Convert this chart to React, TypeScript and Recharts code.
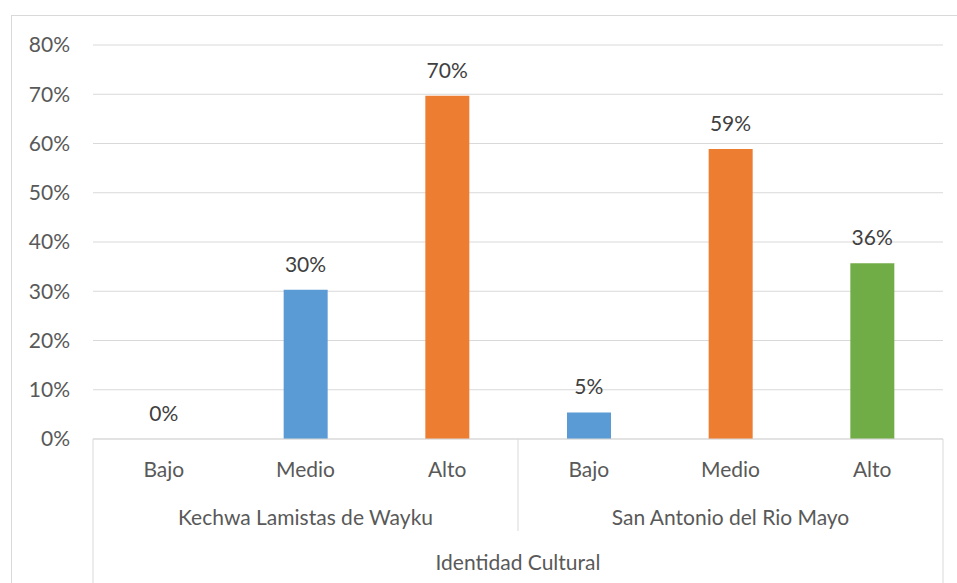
import React from "react";
import { ComposedChart, Bar, Line, XAxis, YAxis, CartesianGrid, LabelList, Cell } from "recharts";

const levels = ["Bajo", "Medio", "Alto", "Bajo", "Medio", "Alto"];
const groups = ["Kechwa Lamistas de Wayku", "Kechwa Lamistas de Wayku", "Kechwa Lamistas de Wayku", "San Antonio del Rio Mayo", "San Antonio del Rio Mayo", "San Antonio del Rio Mayo"];
const values = [0, 30.3, 69.7, 5.4, 58.9, 35.7];
const barColors = ["#5B9BD5", "#5B9BD5", "#ED7D31", "#5B9BD5", "#ED7D31", "#70AD47"];
const yTicks = [0, 10, 20, 30, 40, 50, 60, 70, 80];
const axisTitle = "Identidad Cultural";

const data = levels.map((l, i) => ({ key: `${i}`, level: l, group: groups[i], value: values[i] }));

const W = 957;
const H = 583;
const M = { top: 45, right: 14, bottom: 0, left: 0 };
const Y_W = 93;
const X_H = 144;
const PLOT_W = W - M.left - M.right - Y_W;
const BAND = PLOT_W / data.length;
const FONT = "Lato, 'Carlito', Calibri, sans-serif";
const FS = 21;
const FW = 400;
const GRID = "#d9d9d9";

const CatTick = (props: any) => {
  const { x, y, payload } = props;
  const i = payload.index;
  const d = data[i];
  const toBottom = H - y;
  const els: any[] = [];
  els.push(
    <text key="l" x={x} y={y + 38} textAnchor="middle" fill="#595959" fontSize={FS} fontWeight={FW} fontFamily={FONT}>
      {d.level}
    </text>
  );
  if (i % 3 === 1) {
    els.push(
      <text key="g" x={x} y={y + 86} textAnchor="middle" fill="#595959" fontSize={FS} fontWeight={FW} fontFamily={FONT}>
        {d.group}
      </text>
    );
  }
  if (i === 0) {
    els.push(<line key="a" x1={x - BAND / 2} x2={x - BAND / 2} y1={y} y2={y + toBottom} stroke={GRID} strokeWidth={1} />);
  }
  if (i === 2) {
    els.push(<line key="b" x1={x + BAND / 2} x2={x + BAND / 2} y1={y} y2={y + 92} stroke={GRID} strokeWidth={1} />);
  }
  if (i === data.length - 1) {
    els.push(<line key="c" x1={x + BAND / 2} x2={x + BAND / 2} y1={y} y2={y + toBottom} stroke={GRID} strokeWidth={1} />);
  }
  return <g>{els}</g>;
};

export default function App() {
  return (
    <div style={{ position: "fixed", left: 0, top: 0, width: W, height: H, overflow: "hidden", background: "#fff" }}>
      <div style={{ position: "absolute", left: 11, top: 15, width: 1000, height: 1000, border: `1px solid ${GRID}`, boxSizing: "border-box" }} />
      <div style={{ position: "absolute", left: 0, top: 0 }}>
        <ComposedChart width={W} height={H} data={data} margin={M} barSize={44}>
          <CartesianGrid vertical={false} stroke={GRID} strokeWidth={1} />
          <XAxis
            dataKey="key"
            height={X_H}
            tickLine={false}
            tickSize={0}
            tickMargin={0}
            axisLine={{ stroke: GRID }}
            interval={0}
            tick={<CatTick />}
            label={{ value: axisTitle, position: "insideBottom", offset: 13, fill: "#595959", fontSize: FS, fontWeight: FW, fontFamily: FONT }}
          />
          <YAxis
            width={Y_W}
            domain={[0, 80]}
            ticks={yTicks}
            tickFormatter={(v: number) => `${v}%`}
            axisLine={false}
            tickLine={false}
            tickSize={0}
            tickMargin={23}
            tick={{ fill: "#595959", fontSize: FS, fontWeight: FW, fontFamily: FONT }}
          />
          <Bar dataKey="value" isAnimationActive={false}>
            {data.map((d, i) => (
              <Cell key={d.key} fill={barColors[i]} />
            ))}
          </Bar>
          <Line dataKey="value" stroke="none" dot={false} activeDot={false} isAnimationActive={false}>
            <LabelList
              dataKey="value"
              position="top"
              offset={18}
              formatter={(v: any) => `${Math.round(Number(v))}%`}
              fill="#404040"
              fontSize={FS}
              fontWeight={FW}
              fontFamily={FONT}
            />
          </Line>
        </ComposedChart>
      </div>
    </div>
  );
}
